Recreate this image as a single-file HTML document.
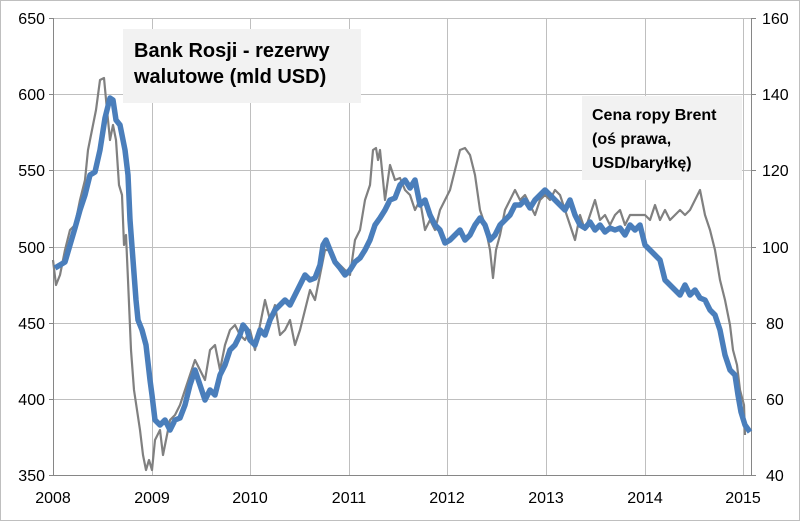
<!DOCTYPE html>
<html><head><meta charset="utf-8"><style>
body{margin:0;background:#fff}
svg{display:block;font-family:"Liberation Sans",sans-serif}
</style></head><body>
<svg width="800" height="521" viewBox="0 0 800 521">
<rect x="0.5" y="0.5" width="799" height="520" fill="#fff" stroke="#bfbfbf"/>
<g stroke="#bfbfbf" stroke-width="1">
<line x1="53" y1="18.5" x2="751" y2="18.5"/><line x1="53" y1="94.5" x2="751" y2="94.5"/>
<line x1="53" y1="170.5" x2="751" y2="170.5"/><line x1="53" y1="247.5" x2="751" y2="247.5"/>
<line x1="53" y1="323.5" x2="751" y2="323.5"/><line x1="53" y1="399.5" x2="751" y2="399.5"/>
<line x1="152.5" y1="18" x2="152.5" y2="475"/><line x1="250.5" y1="18" x2="250.5" y2="475"/>
<line x1="349.5" y1="18" x2="349.5" y2="475"/><line x1="447.5" y1="18" x2="447.5" y2="475"/>
<line x1="546.5" y1="18" x2="546.5" y2="475"/><line x1="645.5" y1="18" x2="645.5" y2="475"/>
<line x1="743.5" y1="18" x2="743.5" y2="475"/>
</g>
<g stroke="#868686" stroke-width="1">
<line x1="53.5" y1="18" x2="53.5" y2="475"/><line x1="751.5" y1="18" x2="751.5" y2="475"/>
<line x1="53" y1="475.5" x2="751" y2="475.5"/>
<line x1="49" y1="18.5" x2="53" y2="18.5"/><line x1="49" y1="94.5" x2="53" y2="94.5"/><line x1="49" y1="170.5" x2="53" y2="170.5"/><line x1="49" y1="247.5" x2="53" y2="247.5"/><line x1="49" y1="323.5" x2="53" y2="323.5"/><line x1="49" y1="399.5" x2="53" y2="399.5"/><line x1="49" y1="475.5" x2="53" y2="475.5"/>
<line x1="751" y1="18.5" x2="756" y2="18.5"/><line x1="751" y1="94.5" x2="756" y2="94.5"/><line x1="751" y1="170.5" x2="756" y2="170.5"/><line x1="751" y1="247.5" x2="756" y2="247.5"/><line x1="751" y1="323.5" x2="756" y2="323.5"/><line x1="751" y1="399.5" x2="756" y2="399.5"/><line x1="751" y1="475.5" x2="756" y2="475.5"/>
</g>
<g font-size="16" fill="#000" text-anchor="end">
<text x="45" y="24">650</text><text x="45" y="100">600</text><text x="45" y="176">550</text><text x="45" y="253">500</text><text x="45" y="329">450</text><text x="45" y="405">400</text><text x="45" y="481">350</text>
</g>
<g font-size="16" fill="#000" text-anchor="start">
<text x="762" y="24">160</text><text x="762" y="100">140</text><text x="762" y="176">120</text><text x="762" y="253">100</text><text x="766" y="329">80</text><text x="766" y="405">60</text><text x="766" y="481">40</text>
</g>
<g font-size="16" fill="#000" text-anchor="middle">
<text x="53" y="503">2008</text><text x="152" y="503">2009</text><text x="250" y="503">2010</text><text x="349" y="503">2011</text><text x="447" y="503">2012</text><text x="546" y="503">2013</text><text x="645" y="503">2014</text><text x="743" y="503">2015</text>
</g>
<polyline fill="none" stroke="#808080" stroke-width="2.2" stroke-linejoin="round" points="53,260 56,285 60,275 65,250 70,230 75,225 80,200 85,180 88,150 92,130 96,110 100,80 104,78 107,110 110,140 113,125 116,140 119,185 122,195 124,245 126,235 128,280 131,350 134,390 137,410 140,430 143,455 146,470 149,460 152,470 155,440 160,430 163,455 166,440 170,420 175,415 180,405 185,390 190,375 195,360 200,370 205,380 210,350 215,345 220,370 225,345 230,330 235,325 240,335 245,340 250,330 255,350 260,325 265,300 270,320 275,305 280,335 285,330 290,320 295,345 300,330 305,310 310,290 315,300 320,275 325,250 330,250 335,260 340,265 345,270 350,275 355,240 360,230 365,200 370,185 373,150 376,148 378,160 380,150 385,200 390,165 395,180 400,178 405,190 410,195 415,210 420,200 425,230 430,220 435,230 440,210 445,200 450,190 455,170 460,150 465,148 470,155 475,175 480,210 485,225 490,250 493,278 496,250 500,235 505,210 510,200 515,190 520,200 525,195 530,205 535,215 540,200 545,195 550,200 555,190 560,195 565,210 570,225 575,240 580,215 585,230 590,215 595,200 600,220 605,215 610,225 615,215 620,210 625,225 630,215 635,215 640,215 645,215 650,220 655,205 660,220 665,210 670,220 675,215 680,210 685,215 690,210 695,200 700,190 705,215 710,230 715,250 720,280 725,300 730,325 733,350 737,365 740,390 744,405 745,435"/>
<polyline fill="none" stroke="#4a7ebb" stroke-width="5.5" stroke-linejoin="round" points="55,268 60,265 65,262 70,245 75,228 80,210 85,195 90,175 95,172 100,150 105,118 110,98 113,100 116,120 120,125 125,150 128,175 130,220 133,260 136,300 138,320 142,330 146,345 150,380 152,395 155,420 160,425 165,420 170,430 175,420 180,418 185,405 190,385 195,370 200,385 205,400 210,390 215,395 220,375 225,365 230,350 235,345 240,335 243,325 247,330 250,340 255,345 260,330 265,335 270,320 275,310 280,305 285,300 290,305 295,295 300,285 305,275 310,280 315,278 320,265 323,245 326,240 330,250 335,262 340,268 345,275 350,270 355,262 360,258 365,250 370,240 375,225 380,218 385,210 390,200 395,198 400,185 405,180 410,188 415,180 420,205 425,200 430,215 435,225 440,230 445,243 450,240 455,235 460,230 465,240 470,235 475,225 480,218 485,225 490,240 495,235 500,225 505,220 510,215 515,205 520,205 525,200 530,208 535,200 540,195 545,190 550,195 555,200 560,205 565,210 570,200 575,215 580,225 585,228 590,222 595,230 600,225 605,232 610,228 615,230 620,228 625,235 630,225 635,230 640,225 645,245 650,250 655,255 660,260 665,280 670,285 675,290 680,295 685,285 690,295 695,290 700,298 705,300 710,310 715,315 720,330 725,355 730,370 735,375 738,395 741,412 745,425 750,432"/>
<rect x="123" y="29" width="238" height="74" fill="#f2f2f2"/>
<g font-size="20" font-weight="bold" fill="#000"><text x="134" y="57">Bank Rosji - rezerwy</text><text x="134" y="83">walutowe (mld USD)</text></g>
<rect x="582" y="96" width="160" height="84" fill="#f2f2f2"/>
<g font-size="16" font-weight="bold" fill="#000"><text x="592" y="120">Cena ropy Brent</text><text x="592" y="144">(oś prawa,</text><text x="592" y="168">USD/baryłkę)</text></g>
</svg>
</body></html>
